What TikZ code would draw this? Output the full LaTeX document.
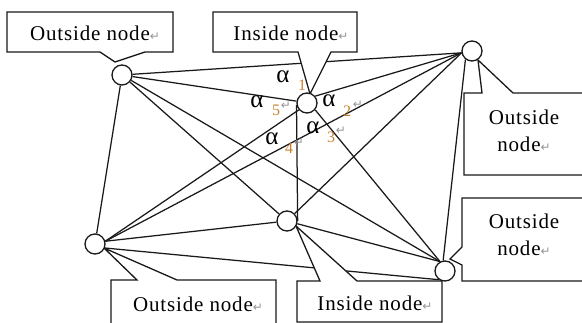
\documentclass[tikz,border=0pt]{standalone}
\usepackage{fontspec}
\setmainfont{Liberation Serif}
\newfontfamily\symfont{DejaVu Sans}
\newfontfamily\lblfont[LetterSpace=4]{Liberation Serif}
\pgfdeclarelayer{edges}
\pgfdeclarelayer{boxes}
\pgfsetlayers{edges,boxes,main}
\definecolor{linec}{RGB}{25,25,25}
\definecolor{subc}{RGB}{200,130,50}
\definecolor{retgrey}{RGB}{150,150,150}
\newcommand{\retmark}{{\symfont\fontsize{12}{12}\selectfont\textcolor{retgrey}{↵}}}

\begin{document}
\begin{tikzpicture}[x=1pt,y=-1pt,
  vertex/.style={circle,draw=linec,fill=white,line width=1.3pt,minimum size=20pt,inner sep=0pt},
  link/.style={draw=linec,line width=1.25pt},
  callout/.style={draw=linec,fill=white,line width=1.3pt,line join=miter},
  boxtext/.style={font=\lblfont\fontsize{21}{27}\selectfont,align=center,inner sep=0pt},
  anglemark/.style={font=\fontsize{25}{25}\selectfont,inner sep=0pt},
  subidx/.style={font=\fontsize{16}{16}\selectfont,text=subc,inner sep=0pt},
  retidx/.style={font=\symfont\fontsize{12}{12}\selectfont,text=retgrey,inner sep=0pt}]
\useasboundingbox (0,0) rectangle (582,323);

% graph vertices
\node[vertex] (A) at (122,75) {};
\node[vertex] (B) at (307,103) {};
\node[vertex] (C) at (472,51) {};
\node[vertex] (D) at (95,244) {};
\node[vertex] (E) at (287,221) {};
\node[vertex] (F) at (445,271) {};

% all fifteen connections of the complete graph
\begin{pgfonlayer}{edges}
\draw[link] (A) -- (B.170);
\draw[link] (A) -- (C.190);
\draw[link] (A) -- (D);
\draw[link] (A) -- (E);
\draw[link] (A) -- (F.118);
\draw[link] (B.40) -- (C.190);
\draw[link] (B.220) -- (D.15);
\draw[link] (B.190) -- (E.east);
\draw[link] (B.320) -- (F.118);
\draw[link] (C.190) -- (D.15);
\draw[link] (C.190) -- (E);
\draw[link] (C.232) -- (F.100);
\draw[link] (D.15) -- (E);
\draw[link] (D.338) -- (F.235);
\draw[link] (E) -- (F.118);
\end{pgfonlayer}

% callout boxes (opaque, above the connections)
\begin{pgfonlayer}{boxes}
\draw[callout] (7,12) -- (173,12) -- (173,52) -- (145,52) -- (115,62) -- (100,52) -- (7,52) -- cycle;
\draw[callout] (213,12) -- (357,12) -- (357,52) -- (331,52) -- (310,94) -- (298,52) -- (213,52) -- cycle;
\draw[callout] (464,93) -- (482,93) -- (478,60) -- (513,93) -- (600,93) -- (600,175) -- (464,175) -- cycle;
\draw[callout] (462,198) -- (600,198) -- (600,281) -- (462,281) -- (462,265) -- (450,259) -- (462,247) -- cycle;
\draw[callout] (111,280) -- (137,280) -- (104,248) -- (177,280) -- (276,280) -- (276,330) -- (111,330) -- cycle;
\draw[callout] (297,281) -- (320,281) -- (296,226) -- (357,281) -- (442,281) -- (442,322) -- (297,322) -- cycle;
\end{pgfonlayer}

% callout texts
\node[boxtext] (tlText) at (95,33) {Outside node\retmark};
\node[boxtext] (tiText) at (291,33) {Inside node\retmark};
\node[boxtext] (r1Text) at (524,131) {Outside\\node\retmark};
\node[boxtext] (r2Text) at (524,235) {Outside\\node\retmark};
\node[boxtext] (blText) at (198,304) {Outside node\retmark};
\node[boxtext] (biText) at (375,303) {Inside node\retmark};

% angle labels around the upper inside node
\node[anglemark] (a1) at (283,77) {α};
\node[subidx] (s1) at (302,85) {1};
\node[anglemark] (a5) at (257,102) {α};
\node[subidx] (s5) at (276,110) {5};
\node[retidx] (r5) at (286,106) {↵};
\node[anglemark] (a2) at (329,101) {α};
\node[subidx] (s2) at (347,111) {2};
\node[retidx] (r2) at (358,105) {↵};
\node[anglemark] (a3) at (313,128) {α};
\node[subidx] (s3) at (331,137) {3};
\node[retidx] (r3) at (341,131) {↵};
\node[anglemark] (a4) at (272,139) {α};
\node[subidx] (s4) at (289,148) {4};
\node[retidx] (r4) at (299,143) {↵};
\end{tikzpicture}
\end{document}
